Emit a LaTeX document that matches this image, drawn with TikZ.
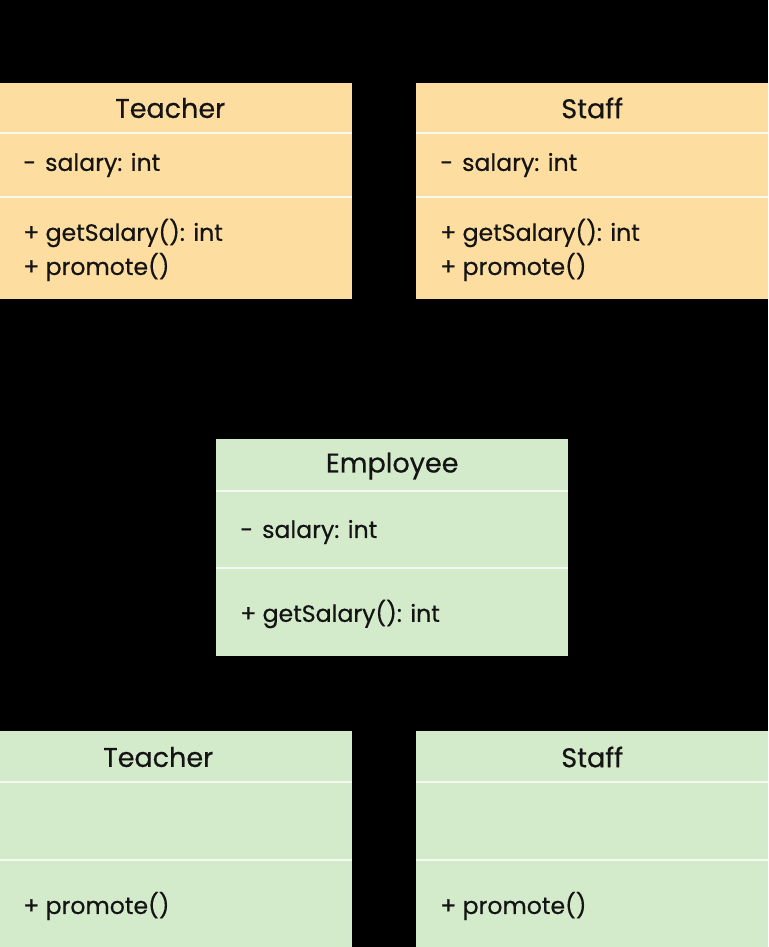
\documentclass[tikz,border=0pt]{standalone}
\usepackage{fontspec}
\setmainfont{Poppins}[FakeBold=0.5]
\usetikzlibrary{positioning}

\definecolor{peach}{HTML}{FEDEA0}
\definecolor{mint}{HTML}{D3EBCA}
\definecolor{ink}{HTML}{141414}

\tikzset{
  classbox/.style={rectangle,draw=none,minimum width=352,minimum height=216,anchor=north west,inner sep=0},
  divider/.style={white!70!mint,line width=1.5},
  classname/.style={text=ink,font=\fontsize{27}{30}\selectfont,inner sep=0},
  member/.style={text=ink,font=\fontsize{23.6}{28}\selectfont,inner sep=0,anchor=west}
}

\begin{document}
\begin{tikzpicture}[x=1pt,y=-1pt]

  \fill[black] (0,0) rectangle (768,947);
  \useasboundingbox (0,0) rectangle (768,947);

  % top row
  \node[classbox,fill=peach,minimum width=364] (teacherA) at (-12,83) {};
  \node[classbox,fill=peach] (staffA) at (416,83) {};
  \draw[divider] (-12,133) -- (352,133) (-12,197) -- (352,197);
  \draw[divider] (416,133) -- (768,133) (416,197) -- (768,197);

  \node[classname] (teacherAname) at ([yshift=-25]teacherA.north) {Teacher};
  \node[member] (teacherAsal) at (23,165) {-\hspace{9pt}salary: int};
  \node[member] (teacherAget) at (23,233) {+ getSalary(): int};
  \node[member] (teacherAprom) at (23,267) {+ promote()};

  \node[classname] (staffAname) at ([yshift=-25]staffA.north) {Staff};
  \node[member] (staffAsal) at (440,165) {-\hspace{9pt}salary: int};
  \node[member] (staffAget) at (440,233) {+ getSalary(): int};
  \node[member] (staffAprom) at (440,267) {+ promote()};

  % middle
  \node[classbox,fill=mint,minimum height=217] (employee) at (216,439) {};
  \draw[divider] (216,491) -- (568,491) (216,568) -- (568,568);
  \node[classname] (employeename) at ([yshift=-27]employee.north) {Employee};
  \node[member] (employeesal) at (240,532) {-\hspace{9pt}salary: int};
  \node[member] (employeeget) at (240,614) {+ getSalary(): int};

  % bottom row
  \node[classbox,fill=mint,minimum width=388] (teacherB) at (-36,731) {};
  \node[classbox,fill=mint] (staffB) at (416,731) {};
  \draw[divider] (-36,782) -- (352,782) (-36,860) -- (352,860);
  \draw[divider] (416,782) -- (768,782) (416,860) -- (768,860);

  \node[classname] (teacherBname) at ([yshift=-26]teacherB.north) {Teacher};
  \node[member] (teacherBprom) at (23,906) {+ promote()};

  \node[classname] (staffBname) at ([yshift=-26]staffB.north) {Staff};
  \node[member] (staffBprom) at (440,906) {+ promote()};

\end{tikzpicture}
\end{document}
